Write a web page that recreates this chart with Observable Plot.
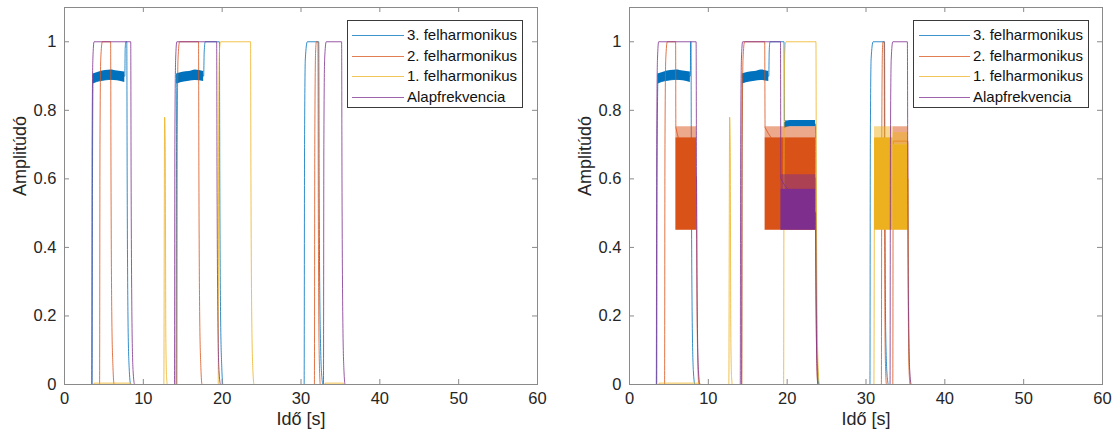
<!DOCTYPE html>
<html>
<head>
<meta charset="utf-8">
<script src="https://cdn.jsdelivr.net/npm/d3@7"></script>
<script src="https://cdn.jsdelivr.net/npm/@observablehq/plot@0.6"></script>
<style>
  html, body { margin: 0; padding: 0; background: #fff; }
  #wrap { position: relative; width: 1119px; height: 438px; overflow: hidden; font-family: "Liberation Sans", Arial, Helvetica, sans-serif; }
  .panel { position: absolute; top: 0; }
  .legend { position: absolute; box-sizing: border-box; border: 1px solid #3a3a3a; background: #fff; padding-top: 4px; }
  .legend .row { position: relative; height: 20.6px; line-height: 20.6px; font-size: 15px; color: #111; white-space: nowrap; }
  .legend .sw { position: absolute; top: 10px; height: 0; border-top: 1px solid; }
</style>
</head>
<body>
<div id="wrap"></div>
<script>
// ---------- data ----------
const seriesNames = ["3. felharmonikus", "2. felharmonikus", "1. felharmonikus", "Alapfrekvencia"];
const seriesColors = ["#0072BD", "#D95319", "#EDB120", "#7E2F8E"];
const xTicks = [0, 10, 20, 30, 40, 50, 60];
const yTicks = [0, 0.2, 0.4, 0.6, 0.8, 1];
const yTickLabels = ["0", "0.2", "0.4", "0.6", "0.8", "1"];
const xLabel = "Idő [s]";
const yLabel = "Amplitúdó";

// Left panel: [time, amplitude]
const left3 = [[0,0],[3.5,0],[3.55,0.6],[3.62,0.88],[7.65,0.9],[7.7,0.98],[7.78,1],[7.9,1],[7.95,0.6],[8.05,0.2],[8.2,0.05],[8.4,0],[14.15,0],[14.2,0.6],[14.25,0.88],[17.65,0.9],[17.72,0.97],[17.85,1],[19.65,1],[19.7,0.6],[19.8,0.2],[19.95,0.05],[20.1,0],[30.4,0],[30.45,0.7],[30.55,0.95],[30.8,1],[32.25,1],[32.3,0.6],[32.45,0.15],[32.65,0.02],[32.8,0],[60,0]];
const left2 = [[0,0],[4.45,0],[4.5,0.7],[4.6,0.95],[4.8,1],[5.85,1],[5.9,0.6],[6.0,0.2],[6.15,0.05],[6.3,0],[14.25,0],[14.3,0.7],[14.4,0.95],[14.6,1],[17.0,1],[17.05,0.6],[17.15,0.2],[17.3,0.05],[17.45,0],[31.7,0],[31.75,0.7],[31.85,0.97],[31.95,1],[32.15,1],[32.2,0.5],[32.3,0.1],[32.45,0],[60,0]];
const left1 = [[0,0],[3.7,0],[3.75,0.004],[8.4,0.004],[8.5,0],[12.6,0],[12.7,0.78],[12.78,0.7],[12.85,0.15],[12.95,0.02],[13.05,0],[19.5,0],[19.55,0.7],[19.65,0.97],[19.8,1],[23.6,1],[23.65,0.6],[23.75,0.2],[23.9,0.04],[24.05,0],[33.0,0],[33.05,0.004],[35.4,0.004],[35.5,0],[60,0]];
const left0 = [[0,0],[3.45,0],[3.5,0.7],[3.6,0.95],[3.75,1],[8.4,1],[8.45,0.6],[8.55,0.2],[8.7,0.04],[8.9,0],[13.95,0],[14.0,0.7],[14.1,0.95],[14.25,1],[19.3,1],[19.35,0.6],[19.45,0.2],[19.6,0.04],[19.8,0],[32.85,0],[32.9,0.7],[33.0,0.95],[33.2,1],[35.15,1],[35.2,0.6],[35.3,0.2],[35.45,0.04],[35.6,0],[60,0]];
// noisy 3rd-harmonic band near 0.9: [time, low, high]
const leftNoise3a = [[3.62,0.877,0.906],[4.4,0.884,0.912],[5.2,0.887,0.916],[5.9,0.888,0.918],[6.7,0.886,0.915],[7.65,0.881,0.912]];
const leftNoise3b = [[14.22,0.877,0.906],[15.0,0.882,0.911],[15.8,0.885,0.913],[16.6,0.887,0.918],[17.65,0.884,0.913]];

// Right panel: [time, amplitude]
const right3 = [[0,0],[3.45,0],[3.5,0.6],[3.6,0.88],[7.72,0.9],[7.75,1],[7.8,1],[7.85,0.6],[7.95,0.2],[8.1,0.04],[8.3,0],[14.2,0],[14.25,0.6],[14.3,0.88],[17.67,0.9],[17.72,0.97],[17.82,1],[19.6,1],[19.65,0.77],[23.6,0.76],[23.65,0.5],[23.75,0.15],[23.9,0.03],[24.05,0],[30.5,0],[30.55,0.7],[30.65,0.95],[30.9,1],[32.35,1],[32.4,0.6],[32.5,0.15],[32.7,0.02],[32.85,0],[60,0]];
const right2 = [[0,0],[4.45,0],[4.5,0.7],[4.6,0.95],[4.8,1],[5.85,1],[5.88,0.75],[8.5,0.6],[8.55,0.3],[8.65,0.08],[8.8,0],[14.25,0],[14.3,0.7],[14.4,0.95],[14.6,1],[17.15,1],[17.2,0.75],[23.6,0.6],[23.65,0.3],[23.75,0.08],[23.9,0],[31.95,0],[32.0,0.7],[32.08,0.97],[32.15,1],[32.3,1],[32.35,0.5],[32.45,0.08],[32.6,0],[33.4,0],[33.45,0.71],[35.3,0.71],[35.35,0.3],[35.45,0.05],[35.6,0],[60,0]];
const right1 = [[0,0],[3.7,0],[3.75,0.004],[8.9,0.004],[9.0,0],[12.6,0],[12.7,0.78],[12.78,0.7],[12.85,0.15],[12.95,0.02],[13.05,0],[19.55,0],[19.6,0.7],[19.7,0.97],[19.85,1],[23.65,1],[23.7,0.6],[23.8,0.2],[23.95,0.04],[24.1,0],[31.0,0],[31.08,0.6],[35.35,0.6],[35.4,0.3],[35.5,0.05],[35.65,0],[60,0]];
const right0 = [[0,0],[3.4,0],[3.45,0.7],[3.55,0.95],[3.7,1],[8.45,1],[8.5,0.6],[8.6,0.2],[8.75,0.04],[8.95,0],[14.05,0],[14.1,0.7],[14.2,0.95],[14.35,1],[19.15,1],[19.2,0.6],[23.6,0.5],[23.65,0.3],[23.75,0.08],[23.9,0],[33.05,0],[33.1,0.7],[33.2,0.95],[33.4,1],[35.25,1],[35.3,0.6],[35.4,0.2],[35.55,0.04],[35.75,0],[60,0]];
const rightNoise3a = [[3.6,0.877,0.906],[4.4,0.884,0.912],[5.2,0.887,0.916],[6.0,0.888,0.918],[6.8,0.886,0.915],[7.72,0.881,0.912]];
const rightNoise3b = [[14.3,0.877,0.906],[15.1,0.882,0.911],[15.9,0.885,0.913],[16.7,0.887,0.918],[17.67,0.884,0.913]];
const rightNoise3c = [[19.65,0.747,0.764],[20.4,0.752,0.77],[23.6,0.752,0.77]];
// oscillating bands: [t start, t end, low, solid top, spike top]
const rightBands2 = [[5.88,8.5,0.45,0.72,0.752],[17.2,23.6,0.45,0.72,0.752],[33.45,35.3,0.70,0.70,0.752]];
const rightBands1 = [[31.08,33.45,0.45,0.72,0.752],[33.45,35.35,0.45,0.70,0.735]];
const rightBands0 = [[19.2,23.6,0.45,0.57,0.612]];

// ---------- drawing ----------
const FONT = '"Liberation Sans", Arial, Helvetica, sans-serif';
const W_FRAME = 473, H_FRAME = 377;

function panel(lines, noises, bands, left, marginLeft, width) {
  const marks = [];
  for (let i = 0; i < 4; i++) {
    marks.push(Plot.line(lines[i], {x: d => d[0], y: d => d[1], stroke: seriesColors[i], strokeWidth: 1, strokeOpacity: 0.8, curve: "monotone-x"}));
    for (const nz of noises[i]) {
      marks.push(Plot.areaY(nz, {x: d => d[0], y1: d => d[1], y2: d => d[2], fill: seriesColors[i], curve: "monotone-x"}));
    }
    if (bands[i].length) {
      marks.push(Plot.rect(bands[i], {x1: d => d[0], x2: d => d[1], y1: d => d[2], y2: d => d[3], fill: seriesColors[i]}));
      marks.push(Plot.rect(bands[i], {x1: d => d[0], x2: d => d[1], y1: d => d[3], y2: d => d[4], fill: seriesColors[i], fillOpacity: 0.5}));
    }
  }
  marks.push(
    Plot.frame({stroke: "#8a8a8a"}),
    Plot.ruleX(xTicks, {x: d => d, insetTop: H_FRAME - 5, stroke: "#8a8a8a"}),
    Plot.ruleX(xTicks, {x: d => d, insetBottom: H_FRAME - 5, stroke: "#8a8a8a"}),
    Plot.ruleY(yTicks, {y: d => d, insetRight: W_FRAME - 5, stroke: "#8a8a8a"}),
    Plot.ruleY(yTicks, {y: d => d, insetLeft: W_FRAME - 5, stroke: "#8a8a8a"}),
    Plot.axisX(xTicks, {tickSize: 0, tickPadding: 8, label: null, fontSize: 16.5, fill: "#262626"}),
    Plot.axisY(yTicks, {tickSize: 0, tickPadding: 8, label: null, fontSize: 16.5, fill: "#262626",
      tickFormat: d => yTickLabels[yTicks.indexOf(d)]}),
    Plot.text([xLabel], {frameAnchor: "bottom", dy: 40, text: d => d, fontSize: 18, fill: "#262626"}),
    Plot.text([yLabel], {frameAnchor: "left", dx: -44, rotate: -90, text: d => d, fontSize: 18, fill: "#262626"})
  );
  const chart = Plot.plot({
    width, height: 438,
    marginLeft, marginRight: width - marginLeft - W_FRAME, marginTop: 7, marginBottom: 54,
    x: {domain: [0, 60], label: null},
    y: {domain: [0, 1.1], label: null},
    style: {fontFamily: FONT, fontSize: "16.5px", color: "#262626", background: "#fff", overflow: "visible"},
    marks
  });
  const div = document.createElement("div");
  div.className = "panel";
  div.style.left = left + "px";
  div.appendChild(chart);
  return div;
}

function legend(left, top, width, swLeft, swWidth, textLeft) {
  const box = document.createElement("div");
  box.className = "legend";
  Object.assign(box.style, {left: left + "px", top: top + "px", width: width + "px", height: "88px"});
  seriesNames.forEach((name, i) => {
    const row = document.createElement("div");
    row.className = "row";
    const sw = document.createElement("span");
    sw.className = "sw";
    Object.assign(sw.style, {left: swLeft + "px", width: swWidth + "px", borderTopColor: seriesColors[i], opacity: 0.75});
    const tx = document.createElement("span");
    tx.textContent = name;
    tx.style.position = "absolute";
    tx.style.left = textLeft + "px";
    row.appendChild(sw);
    row.appendChild(tx);
    box.appendChild(row);
  });
  return box;
}

const wrap = document.getElementById("wrap");
wrap.appendChild(panel(
  [left3, left2, left1, left0],
  [[leftNoise3a, leftNoise3b], [], [], []],
  [[], [], [], []],
  0, 64, 560));
wrap.appendChild(panel(
  [right3, right2, right1, right0],
  [[rightNoise3a, rightNoise3b, rightNoise3c], [], [], []],
  [[], rightBands2, rightBands1, rightBands0],
  560, 69, 559));
wrap.appendChild(legend(347, 20, 176, 4, 52, 59));
wrap.appendChild(legend(913, 20, 176, 5, 51, 59));
</script>
</body>
</html>
